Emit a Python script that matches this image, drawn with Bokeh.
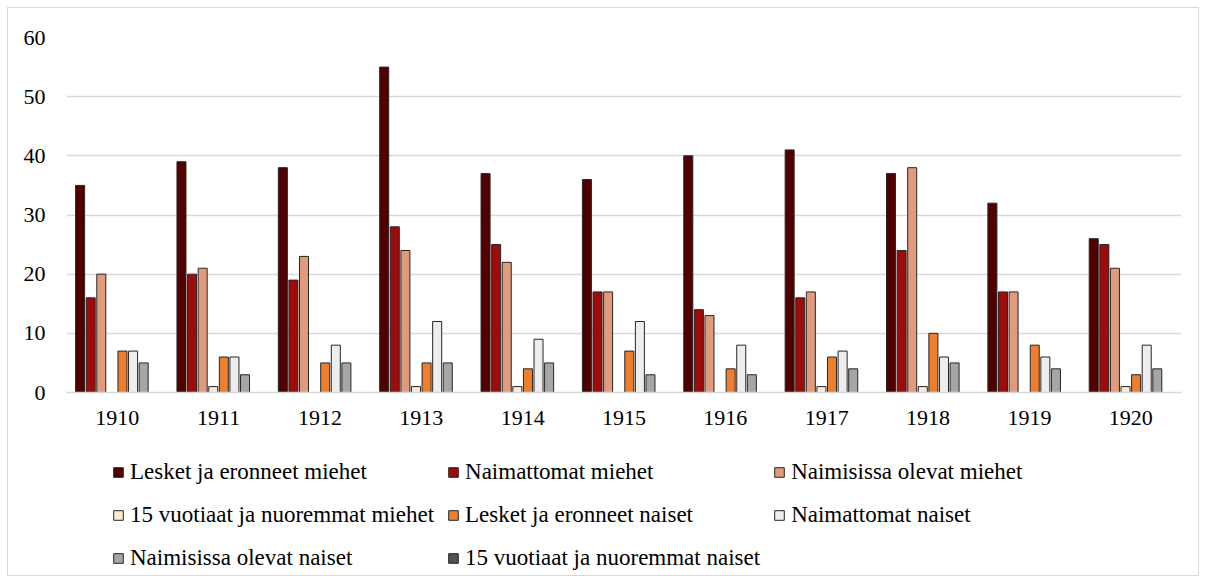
import numpy as np
from bokeh.plotting import figure
from bokeh.layouts import column
from bokeh.models import ColumnDataSource, FactorRange, Range1d, Legend, LegendItem, FixedTicker
from bokeh.transform import dodge
from bokeh.embed import file_html
from bokeh.resources import INLINE

years = ["1910", "1911", "1912", "1913", "1914", "1915", "1916", "1917", "1918", "1919", "1920"]
series_names = [
    "Lesket ja eronneet miehet",
    "Naimattomat miehet",
    "Naimisissa olevat miehet",
    "15 vuotiaat ja nuoremmat miehet",
    "Lesket ja eronneet naiset",
    "Naimattomat naiset",
    "Naimisissa olevat naiset",
    "15 vuotiaat ja nuoremmat naiset",
]
lesket_miehet = [35, 39, 38, 55, 37, 36, 40, 41, 37, 32, 26]
naimattomat_miehet = [16, 20, 19, 28, 25, 17, 14, 16, 24, 17, 25]
naimisissa_miehet = [20, 21, 23, 24, 22, 17, 13, 17, 38, 17, 21]
nuoret_miehet = [0, 1, 0, 1, 1, 0, 0, 1, 1, 0, 1]
lesket_naiset = [7, 6, 5, 5, 4, 7, 4, 6, 10, 8, 3]
naimattomat_naiset = [7, 6, 8, 12, 9, 12, 8, 7, 6, 6, 8]
naimisissa_naiset = [5, 3, 5, 5, 5, 3, 3, 4, 5, 4, 4]
nuoret_naiset = [0, 0, 0, 0, 0, 0, 0, 0, 0, 0, 0]

series = [lesket_miehet, naimattomat_miehet, naimisissa_miehet, nuoret_miehet,
          lesket_naiset, naimattomat_naiset, naimisissa_naiset, nuoret_naiset]
colors = ["#510000", "#9E0B0B", "#DF9B7B", "#FDEAD5", "#EE7F30", "#EDEDED", "#A6A6A6", "#525252"]

FONT = "Liberation Serif"

data = {"year": years}
for i, s in enumerate(series):
    data[f"s{i}"] = [v if v else np.nan for v in s]
source = ColumnDataSource(data)

# main chart
p = figure(x_range=FactorRange(*years), y_range=Range1d(0, 60),
           width=1190, height=432, output_backend="svg", toolbar_location=None,
           min_border_left=58, min_border_right=17, min_border_top=29, min_border_bottom=48)

pitch = 0.1045
bw = 0.089
for i in range(8):
    p.vbar(x=dodge("year", (i - 3.5) * pitch, range=p.x_range), top=f"s{i}", width=bw,
           source=source, fill_color=colors[i], line_color="#262626", line_width=1)

p.outline_line_color = None
p.xgrid.grid_line_color = None
p.ygrid.grid_line_color = "#D9D9D9"
p.ygrid.grid_line_width = 1.5
p.yaxis.ticker = FixedTicker(ticks=[0, 10, 20, 30, 40, 50, 60])
p.yaxis.axis_line_color = None
p.yaxis.major_tick_line_color = None
p.yaxis.minor_tick_line_color = None
p.yaxis.major_label_standoff = 15
p.xaxis.axis_line_color = "#D9D9D9"
p.xaxis.axis_line_width = 1.5
p.xaxis.major_tick_line_color = None
p.xaxis.minor_tick_line_color = None
p.xaxis.major_label_standoff = 12
for ax in (p.xaxis, p.yaxis):
    ax.major_label_text_font = FONT
    ax.major_label_text_font_size = "22px"
    ax.major_label_text_color = "#000000"

# legend panel
lp = figure(width=1190, height=135, output_backend="svg", toolbar_location=None,
            x_range=Range1d(0, 1), y_range=Range1d(0, 1),
            min_border_left=0, min_border_right=0, min_border_top=0, min_border_bottom=0)
lp.axis.visible = False
lp.grid.visible = False
lp.outline_line_color = None
items = []
for i in range(8):
    r = lp.vbar(x=[-10], top=[-10], bottom=[-11], width=0.01,
                fill_color=colors[i], line_color="#262626", line_width=1)
    items.append(LegendItem(label=series_names[i], renderers=[r]))

# legend fills column by column; reorder so it reads row by row
order = [0, 3, 6, 1, 4, 7, 2, 5]
legend = Legend(items=[items[k] for k in order], ncols=3, location=(46, 2), padding=0, margin=0,
                spacing=13, label_standoff=6, glyph_width=12, glyph_height=12, label_height=30,
                label_text_font=FONT, label_text_font_size="23px", label_text_color="#000000",
                border_line_color=None, background_fill_alpha=0)
lp.add_layout(legend, "center")

layout = column(p, lp, spacing=0,
                styles={"border": "1px solid #D9D9D9", "margin": "7px 0 0 7px"})

open("out.html", "w").write(file_html(layout, INLINE))
